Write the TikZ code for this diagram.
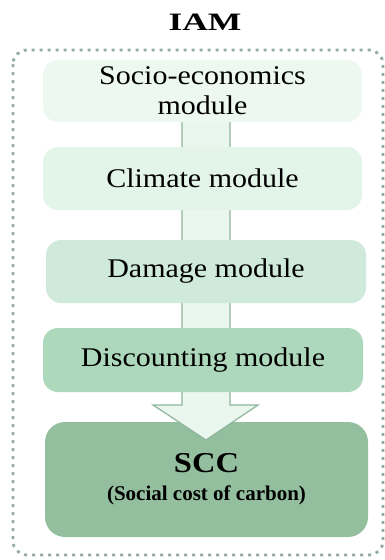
\documentclass[tikz,border=0pt]{standalone}
\usepackage{fontspec}
\setmainfont{Liberation Serif}
\usepackage{graphicx}
\definecolor{frameC}{HTML}{94AC9E}
\definecolor{edgeC}{HTML}{8DB59A}
\definecolor{fillA}{HTML}{EDF8F1}
\definecolor{fillB}{HTML}{E3F4E9}
\definecolor{fillC}{HTML}{CFEADA}
\definecolor{fillD}{HTML}{AED8BB}
\definecolor{fillE}{HTML}{93BF9F}
\definecolor{arrowF}{HTML}{EAF7EE}
\newcommand{\sqz}[1]{\scalebox{1}[0.9]{#1}}
\tikzset{
  modbox/.style={rounded corners=15pt, minimum width=320pt, minimum height=63pt, inner sep=0pt, align=center, font=\fontsize{30}{30}\selectfont, text=black},
}
\begin{document}
\begin{tikzpicture}[x=1pt,y=-1pt]
\useasboundingbox (0,0) rectangle (385,560);
% outer frame
\draw[frameC, line width=2.8pt, dash pattern=on 3pt off 5pt, rounded corners=14pt] (13,50) rectangle (383,555);
% title
\node (iam) at (205,22) {\fontsize{25}{25}\selectfont\bfseries\scalebox{1.42}[1]{IAM}};
% SCC box
\node[modbox, fill=fillE, rounded corners=20pt, minimum width=323pt, minimum height=115pt] (scc) at (206.5,479.5)
  {\fontsize{32}{32}\selectfont\bfseries\scalebox{1.02}[0.9]{SCC}\\[-2pt]\fontsize{21}{22}\selectfont\bfseries (Social cost of carbon)};
% big arrow
\draw[edgeC, line width=1.2pt, fill=arrowF, line join=miter]
  (182,100) -- (182,405) -- (153,405) -- (206,440) -- (258,405) -- (230,405) -- (230,100) -- cycle;
% module boxes
\node[modbox, fill=fillA, minimum width=319pt, minimum height=62pt] (m1) at (202.5,91)
  {\sqz{Socio-economics}\\\sqz{module}};
\node[modbox, fill=fillB, minimum width=319pt] (m2) at (202.5,178.5) {\sqz{Climate module}};
\node[modbox, fill=fillC] (m3) at (206,271.5) {\sqz{Damage module}};
\node[modbox, fill=fillD, minimum height=64pt] (m4) at (203,360) {\sqz{Discounting module}};
\end{tikzpicture}
\end{document}
